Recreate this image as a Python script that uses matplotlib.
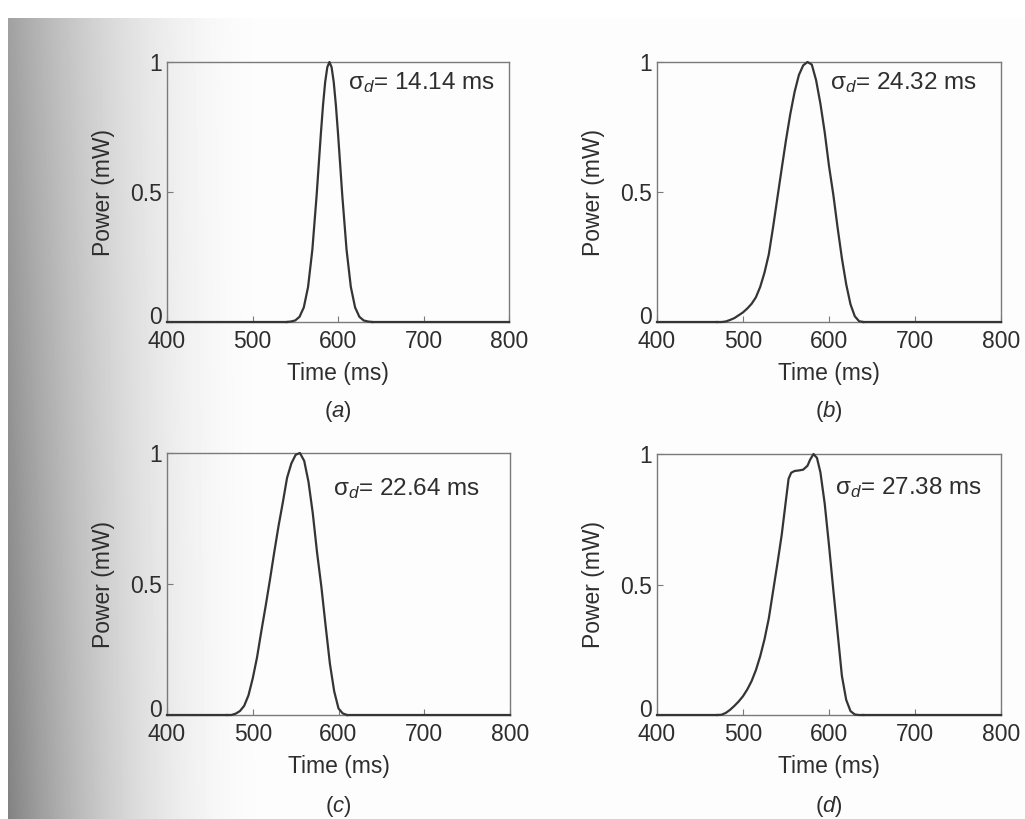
import numpy as np
import matplotlib
matplotlib.use("Agg")
import matplotlib.pyplot as plt
from matplotlib.transforms import ScaledTranslation

plt.rcParams["font.family"] = ["Liberation Sans", "DejaVu Sans"]
plt.rcParams["mathtext.fontset"] = "custom"
plt.rcParams["mathtext.rm"] = "Liberation Sans"
plt.rcParams["mathtext.it"] = "Liberation Sans:italic"

# ---- received pulse power profiles (time in ms, power in mW) ----
t_a = [540, 545, 550, 555, 560, 565, 570, 575, 577.5, 580, 582.5, 585, 587.5,
       590, 592.5, 595, 597.5, 600, 602.5, 605, 610, 615, 620, 625, 630, 635, 640]
p_a = [0.0, 0.002, 0.006, 0.02, 0.056, 0.135, 0.278, 0.487, 0.607, 0.726, 0.835, 0.923, 0.98,
       1.0, 0.98, 0.923, 0.835, 0.726, 0.607, 0.487, 0.278, 0.135, 0.056, 0.02, 0.006, 0.002, 0.0]

t_b = [470, 475, 480, 485, 490, 495, 500, 505, 510, 515, 520, 525, 530, 535, 540,
       545, 550, 555, 560, 565, 570, 575, 580, 585, 590, 595, 600, 605, 610, 615,
       620, 625, 630, 635, 640]
p_b = [0.0, 0.0, 0.002, 0.008, 0.015, 0.026, 0.037, 0.052, 0.07, 0.095, 0.135, 0.19, 0.26, 0.365, 0.478,
       0.59, 0.70, 0.80, 0.885, 0.95, 0.987, 1.0, 0.99, 0.93, 0.84, 0.73, 0.60, 0.49, 0.363, 0.245,
       0.145, 0.068, 0.022, 0.003, 0.0]

t_c = [470, 475, 480, 485, 490, 495, 500, 505, 510, 515, 520, 525, 530, 535, 540,
       545, 550, 555, 560, 565, 570, 575, 580, 585, 590, 595, 600, 605, 610]
p_c = [0.0, 0.0, 0.005, 0.015, 0.035, 0.075, 0.14, 0.22, 0.32, 0.415, 0.515, 0.62, 0.72, 0.81, 0.905,
       0.96, 0.993, 1.0, 0.97, 0.89, 0.77, 0.62, 0.49, 0.34, 0.195, 0.09, 0.025, 0.006, 0.0]

t_d = [470, 475, 480, 485, 490, 495, 500, 505, 510, 515, 520, 525, 530, 535, 540,
       545, 550, 553, 556, 560, 565, 570, 575, 578, 582, 586, 590, 595, 600, 605,
       610, 615, 620, 625, 630, 635, 640]
p_d = [0.0, 0.001, 0.008, 0.02, 0.035, 0.052, 0.072, 0.098, 0.13, 0.172, 0.225, 0.29, 0.37, 0.475, 0.58,
       0.69, 0.825, 0.905, 0.928, 0.935, 0.937, 0.94, 0.955, 0.978, 1.0, 0.985, 0.93, 0.81, 0.65, 0.48,
       0.315, 0.15, 0.058, 0.015, 0.002, 0.0, 0.0]

panel_tags = ["a", "b", "c", "d"]
rms_spreads = ["14.14", "24.32", "22.64", "27.38"]
x_ticks = [400, 500, 600, 700, 800]
y_ticks = [0, 0.5, 1]
y_tick_labels = ["0", "0.5", "1"]

W, H = 1025, 819
fig = plt.figure(figsize=(W / 100, H / 100), dpi=100)
fig.patch.set_facecolor("white")

# page shading toward the binding on the left
bg = fig.add_axes([0, 0, 1, 1], zorder=-10)
bg.axis("off")
xs = np.arange(W, dtype=float)
ys = np.arange(H, dtype=float)
amp = 0.36 + 0.12 * (ys / H)
s = np.clip((xs - 8) / 270.0, 0, 1)
fall = (1 - s) ** 2.0
img = 0.992 - amp[:, None] * fall[None, :]
img[:, :8] = 1.0
img[:18, :] = 1.0
bg.imshow(img, cmap="gray", vmin=0, vmax=1, extent=[0, 1, 0, 1],
          aspect="auto", origin="upper", interpolation="bilinear")
bg.set_xlim(0, 1)
bg.set_ylim(0, 1)

def px_rect(left, top, right, bottom):
    return [left / W, 1 - bottom / H, (right - left) / W, (bottom - top) / H]

rects = [px_rect(167, 62, 509, 322), px_rect(657, 62, 1001, 322),
         px_rect(167, 453, 510, 715), px_rect(657, 454, 1001, 715)]
text_pos = [(0.53, 0.92), (0.503, 0.92), (0.484, 0.866), (0.517, 0.873)]
tag_y = [-0.346, -0.346, -0.351, -0.351]
series = [(t_a, p_a), (t_b, p_b), (t_c, p_c), (t_d, p_d)]

ink = "#2e2e2e"
frame = "#7a7a7a"
curve = "#353535"
fs = 16.5

for rect, (t, p), tag, spread, (tx, ty), tyag in zip(rects, series, panel_tags,
                                                     rms_spreads, text_pos, tag_y):
    ax = fig.add_axes(rect)
    ax.set_facecolor("none")
    ax.plot(t, p, color=curve, lw=1.6, solid_joinstyle="round", clip_on=False, zorder=3)
    ax.plot([400, min(t)], [0, 0], color=curve, lw=1.6, clip_on=False, zorder=3)
    ax.plot([max(t), 800], [0, 0], color=curve, lw=1.6, clip_on=False, zorder=3)
    ax.set_xlim(400, 800)
    ax.set_ylim(0, 1)
    ax.set_xticks(x_ticks)
    ax.set_yticks(y_ticks)
    ax.set_yticklabels(y_tick_labels)
    ax.tick_params(direction="in", length=4, width=0.8, color=frame,
                   labelsize=fs, labelcolor=ink)
    ax.tick_params(axis="x", pad=6)
    ax.tick_params(axis="y", pad=3.5)
    # lift the "0" label so it clears the "400" below it
    zero_lbl = ax.get_yticklabels()[0]
    zero_lbl.set_transform(zero_lbl.get_transform() + ScaledTranslation(0, 5 / 72, fig.dpi_scale_trans))
    for sp in ax.spines.values():
        sp.set_color(frame)
        sp.set_linewidth(1.0)
    ax.set_xlabel("Time (ms)", fontsize=fs, color=ink, labelpad=6)
    ax.set_ylabel("Power (mW)", fontsize=fs, color=ink, labelpad=11)
    ax.text(0.5, tyag, "($%s$)" % tag, transform=ax.transAxes, ha="center",
            va="center", fontsize=fs - 0.5, color=ink)
    ax.text(tx, ty, "σ$_d$= %s ms" % spread, transform=ax.transAxes, ha="left",
            va="center", fontsize=fs + 1, color=ink)

fig.savefig("out.png", dpi=100)
